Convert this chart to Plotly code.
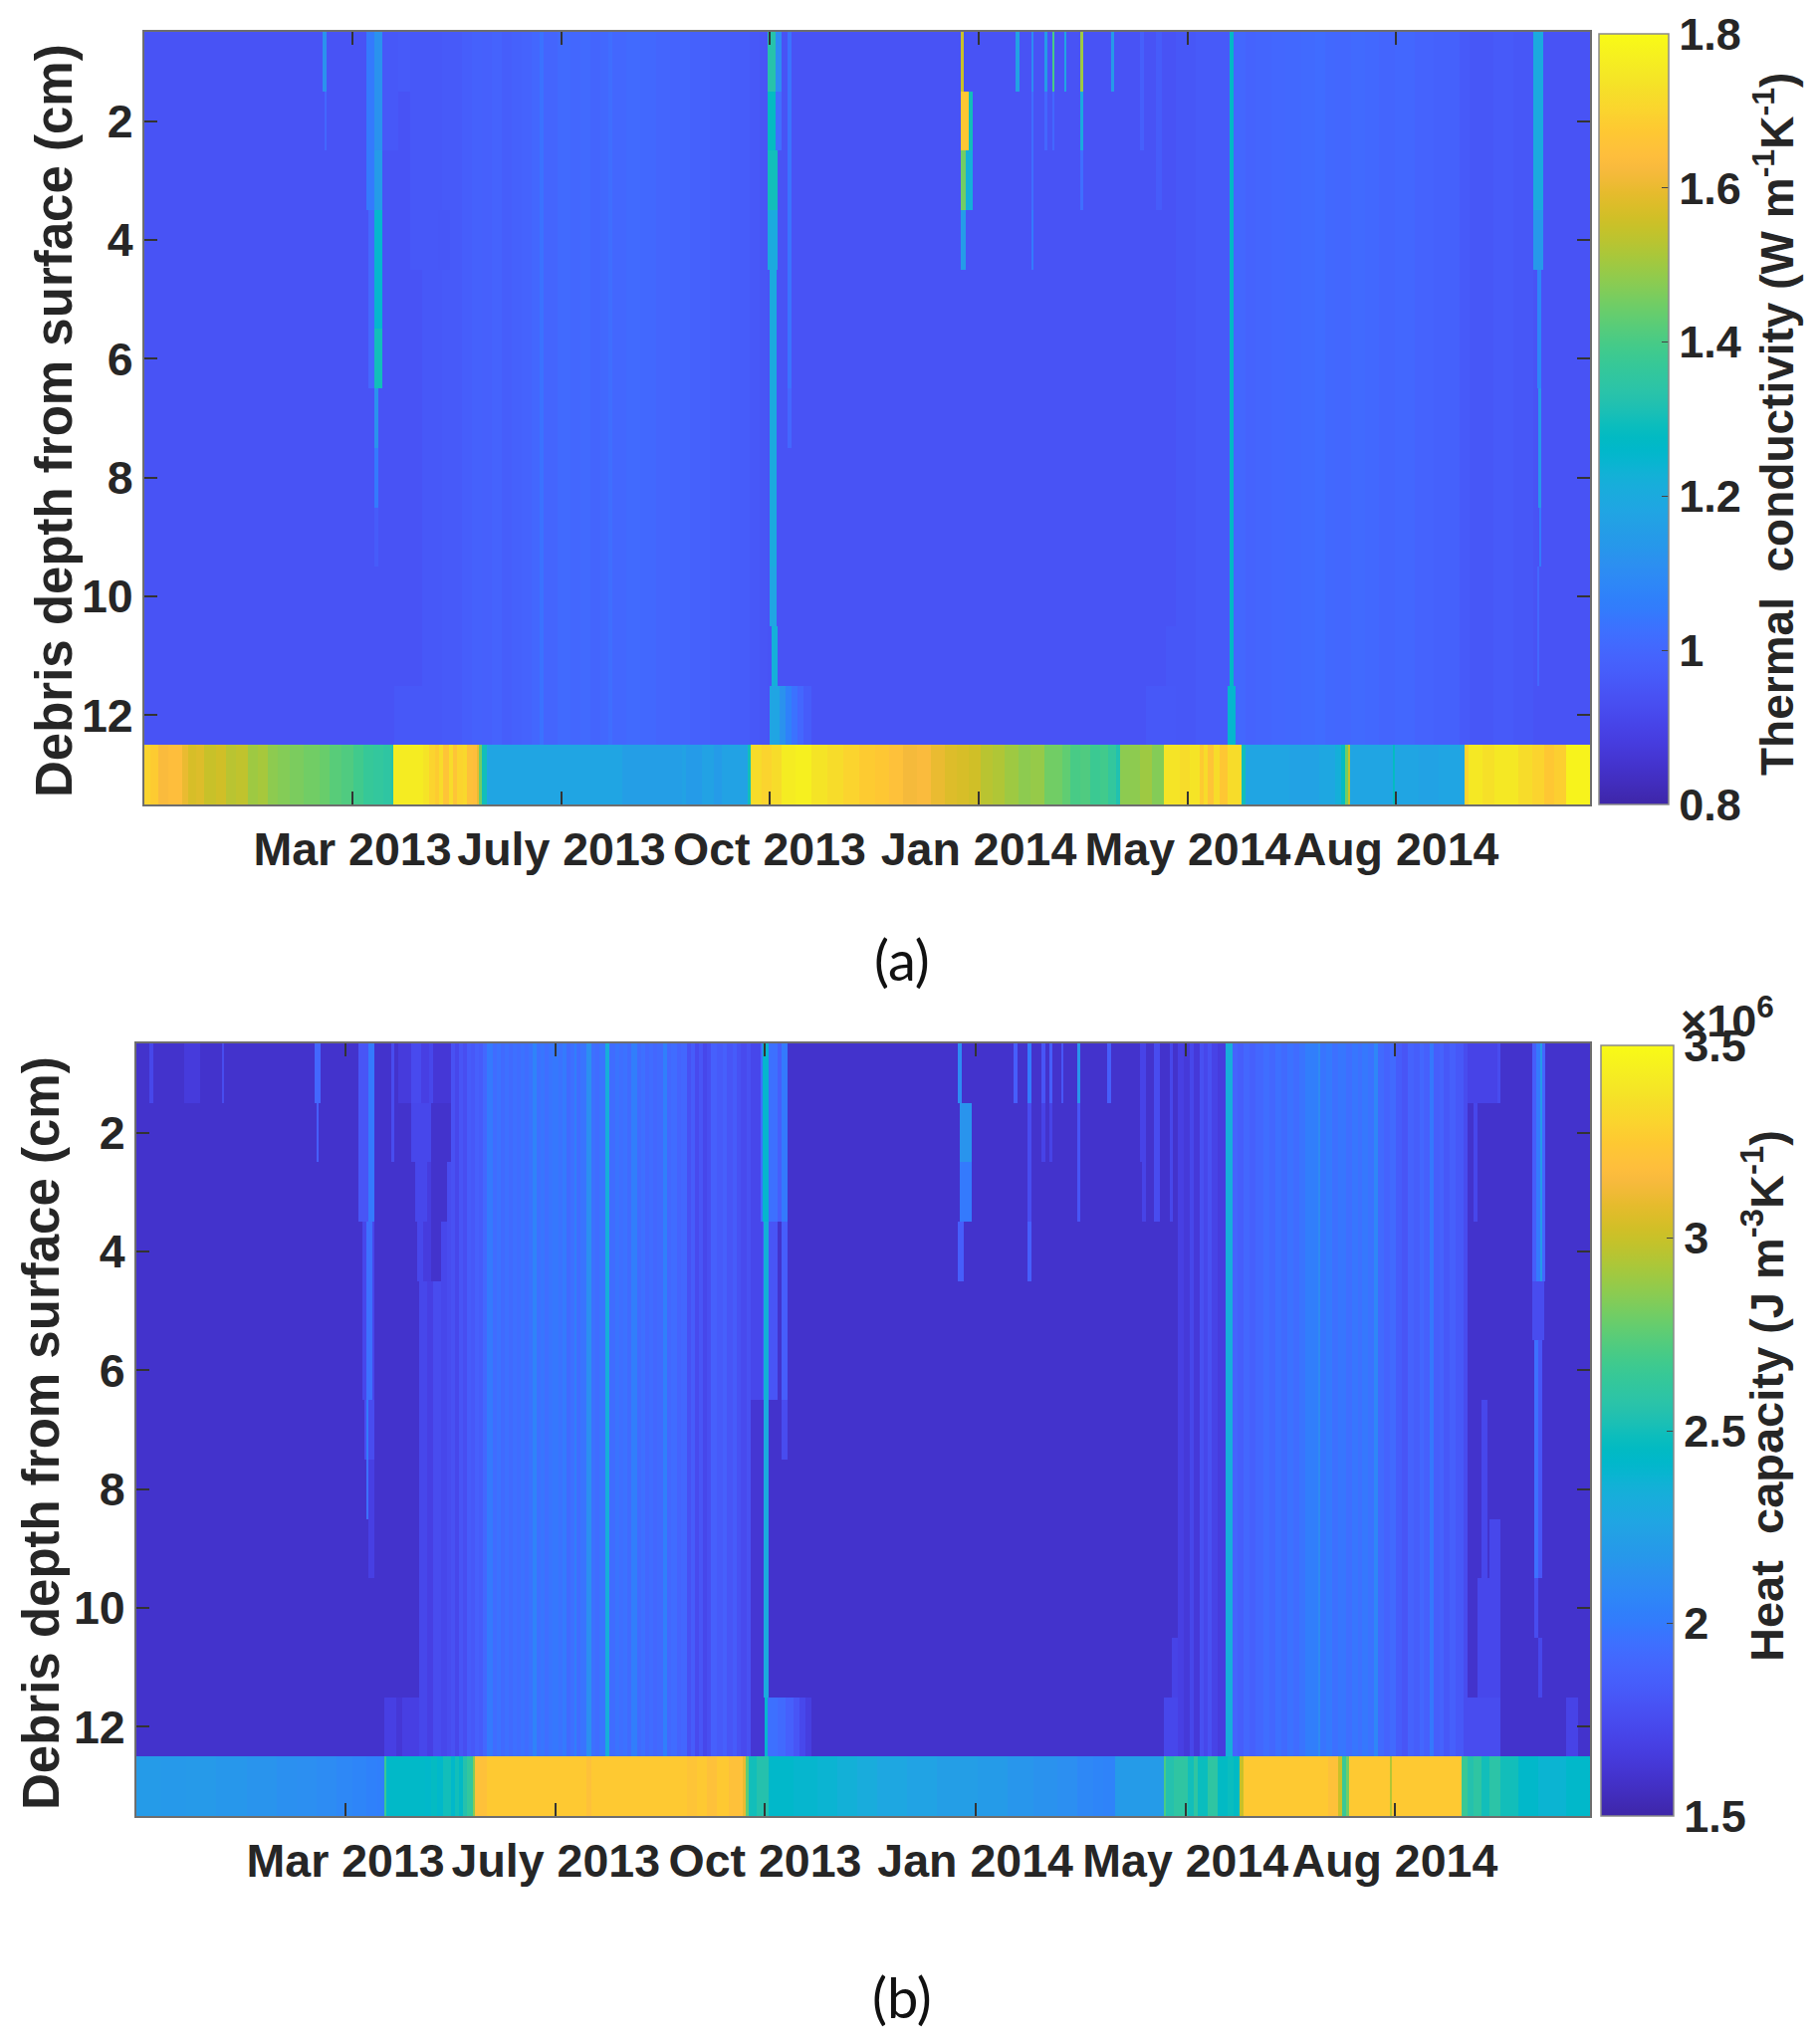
import pandas as pd
import numpy as np
import plotly.graph_objects as go

# ---------- data ----------
START = "2012-12-05"
TOTAL_DAYS = 726
depth_rows = list(range(1, 14))
tick_days = [104.5, 209.5, 314, 419, 524, 628.5]
tick_labels = ["Mar 2013", "July 2013", "Oct 2013", "Jan 2014", "May 2014", "Aug 2014"]
depth_ticks = [2, 4, 6, 8, 10, 12]
K_DAY_SCALE = 0.9965  # the thermal-conductivity day readings were taken at a slightly wider ruler

# thermal conductivity: all-depth background (start day, value)
k_bg_days = [0, 140, 150, 160, 165, 170, 175, 180, 185, 190, 195, 199, 201, 208, 215, 220, 225, 230, 234, 236, 243, 250, 258, 265, 270, 275, 285, 295, 305, 310, 314,
             520, 530, 547, 549, 555, 560, 568, 575, 583, 590, 595, 600, 608, 615, 622, 630, 640, 650, 663, 668, 680, 690, 700]
k_bg_vals = [.945, .96, .965, .975, .985, .98, .99, .975, .985, .99, 1.0, 1.03, .995, 1.01, 1.0, 1.01, .995, 1.005, 1.02, 1.0, 1.01, 1.005, .995, .99, .995, .985, .975, .97, .96, .95, .945,
             .955, .965, 1.27, 1.0, .99, .995, 1.0, 1.005, 1.01, 1.015, 1.005, 1.0, 1.01, 1.005, .995, 1.0, .99, .985, .965, .955, .965, .955, .945]
# thermal conductivity: local patches (from day, to day, depth rows, value)
k_patches = [
    (90, 92, [0], 1.12), (91, 92, [1], 1.0),
    (112, 116, [0, 1, 2], 1.05), (113, 116, [3, 4, 5], 1.0),
    (116, 120, [0, 1], 1.12), (116, 120, [2], 1.15), (116, 120, [3, 4], 1.25), (116, 120, [5], 1.3),
    (116, 118, [6], 1.12), (116, 118, [7], 1.05), (116, 118, [8], .97),
    (120, 128, [0, 1], .96), (128, 134, [0], .965), (134, 140, [0, 1, 2, 3], .96), (126, 140, [11], .96),
    (148, 154, [3], .955),
    (314, 319, [0], 1.33), (314, 319, [1], 1.28), (314, 319, [2], 1.3), (314, 319, [3], 1.2),
    (315, 318.5, [4, 5, 6, 7, 8], 1.2), (315, 318.5, [9], 1.18), (316, 319, [10], 1.22),
    (315, 320, [11], 1.18), (320, 323, [11], 1.12), (323, 326, [11], 1.07), (326, 329, [11], 1.03), (329, 332, [11], 1.0), (332, 336, [11], .97),
    (318, 321, [0], 1.1), (318, 321, [1], 1.02),
    (324, 326, [0, 1, 2, 3, 4, 5], 1.03), (324, 326, [6], 1.0),
    (411.5, 413, [0], 1.55), (411.5, 414, [3], 1.15),
    (411.5, 415.5, [1], 1.67), (415.5, 417.5, [1], 1.3), (411.5, 414, [2], 1.45), (414, 417.5, [2], 1.22),
    (439, 441, [0], 1.17), (447, 448, [0], 1.1), (447, 448, [1, 2], 1.02), (447, 448, [3], 1.05),
    (453.5, 455, [0], 1.15), (453.5, 455, [1], 1.0), (457.6, 458.6, [0], 1.4), (457.6, 458.6, [1], 1.0),
    (463.5, 464.5, [0], 1.18), (471.5, 473, [0], 1.5), (471.5, 473, [1], 1.2), (471.5, 473, [2], 1.02),
    (487, 488.5, [0], 1.15), (502, 504, [0, 1], .98), (510, 513, [0, 1, 2], .97),
    (505, 520, [11], .96), (515, 520, [10], .955), (546, 550, [11], 1.25),
    (700, 705, [0, 1, 2], 1.2), (700, 705, [3], 1.14), (702, 704, [4, 5], 1.08),
    (702.5, 704, [6, 7], 1.13), (703, 704, [8], 1.05), (702, 703, [9, 10], 1.0),
]
# thermal conductivity: bottom layer (start day, value)
k_base_days = [0, 3, 7, 12, 19, 22, 26, 30, 36, 41, 46, 52, 57, 62, 67, 73, 80, 88, 93, 99, 105, 110, 115, 120, 124, 125,
               140, 143, 146, 148, 150, 153, 155, 157, 160, 162, 165, 167, 168, 169.5, 172, 240, 270, 272, 280, 286, 290,
               303, 304.5, 310, 315, 320, 327, 335, 343, 351, 359, 367, 374, 381, 388, 395, 402, 408, 414, 420, 426, 432, 439, 445, 452, 461, 465, 470, 475, 480, 484, 488,
               490, 500, 506, 512, 520, 525, 530, 532, 534, 537, 540, 544, 551, 553, 575, 590, 598, 601, 603, 604.5, 605.5, 627, 628, 640, 650,
               663, 665, 672, 678, 690, 697, 703, 708, 714]
k_base_vals = [1.7, 1.68, 1.63, 1.64, 1.6, 1.57, 1.58, 1.55, 1.56, 1.53, 1.54, 1.5, 1.51, 1.48, 1.47, 1.46, 1.45, 1.44, 1.42, 1.41, 1.39, 1.37, 1.36, 1.35, 1.33, 1.76,
               1.74, 1.7, 1.68, 1.72, 1.66, 1.72, 1.66, 1.7, 1.71, 1.65, 1.64, 1.6, 1.45, 1.3, 1.18, 1.16, 1.17, 1.15, 1.17, 1.15, 1.17,
               1.3, 1.72, 1.7, 1.72, 1.76, 1.77, 1.74, 1.72, 1.7, 1.68, 1.67, 1.65, 1.62, 1.63, 1.6, 1.58, 1.57, 1.56, 1.53, 1.52, 1.5, 1.48, 1.49, 1.45, 1.43, 1.4, 1.41, 1.38, 1.39, 1.36, 1.32,
               1.48, 1.5, 1.47, 1.74, 1.72, 1.74, 1.68, 1.72, 1.66, 1.72, 1.67, 1.72, 1.3, 1.18, 1.17, 1.19, 1.22, 1.28, 1.45, 1.55, 1.18, 1.28, 1.18, 1.17, 1.18,
               1.7, 1.75, 1.73, 1.75, 1.72, 1.7, 1.67, 1.69, 1.78]

# heat capacity (x 10^6): all-depth background
c_bg_days = [0, 141, 145, 148, 152, 155,
             157, 159, 161, 163, 165, 167, 169, 171, 173, 175, 178, 180, 182, 184, 186, 188, 190, 192, 194, 196, 198, 200, 202, 204, 206, 208, 211, 213, 215, 217, 219, 220, 222, 225, 227, 229, 231, 234, 236,
             239, 241, 243, 245, 247, 250, 252, 254, 256, 258, 260, 263, 265, 267, 270, 272, 275, 277, 279, 281, 283, 285, 287, 290, 293, 295, 298, 300, 302, 305, 307, 316,
             520, 523, 526, 528, 531, 533, 535, 537, 540, 544, 547.5, 550, 553, 556, 559, 563, 566, 569, 572, 575, 578, 581, 584, 590, 591, 594, 597, 600, 604, 607, 610, 612, 615, 618, 620, 623, 626, 629, 632,
             635, 638, 641, 643, 646, 648, 651, 653, 656, 659, 663, 665]
c_bg_vals = [1.6, 1.72, 1.68, 1.75, 1.72, 1.75,
             1.78, 1.72, 1.8, 1.76, 1.84, 1.82, 1.86, 1.84, 1.9, 2.0, 1.93, 1.96, 1.92, 1.95, 1.92, 1.95, 1.93, 1.96, 1.93, 1.96, 2.05, 1.95, 1.98, 1.94, 1.97, 1.99, 1.96, 2.0, 1.92, 1.95, 2.03, 1.93, 1.97, 2.13, 1.95, 1.93, 1.97, 2.33, 1.93,
             1.97, 1.94, 1.96, 1.92, 2.02, 1.92, 1.95, 1.9, 1.93, 1.9, 1.92, 2.03, 1.9, 1.93, 1.88, 1.9, 1.78, 1.84, 1.74, 1.8, 1.72, 1.76, 1.86, 1.83, 1.86, 1.8, 1.84, 1.78, 1.74, 1.78, 1.62, 1.6,
             1.68, 1.64, 1.72, 1.64, 1.77, 1.72, 1.78, 1.7, 1.66, 2.33, 1.88, 1.85, 1.9, 1.86, 1.9, 1.94, 1.9, 1.95, 1.92, 1.96, 1.93, 1.97, 2.02, 2.1, 1.97, 2.0, 1.95, 1.98, 1.94, 1.98, 1.95, 1.99, 1.96, 2.07, 1.92, 1.88, 1.92, 1.84, 1.8,
             1.88, 1.85, 1.9, 1.86, 1.99, 1.85, 1.88, 1.82, 1.86, 1.82, 1.75, 1.6]
# heat capacity: local patches
c_patches = [
    (6.7, 8.7, [0], 1.72), (24, 32, [0], 1.65), (43, 44, [0], 1.75), (89, 92, [0], 1.9), (90, 91, [1], 1.85),
    (111, 119, [0, 1, 2], 1.8), (116, 119, [0, 1, 2], 2.0),
    (113, 119, [3, 4, 5], 1.72), (115, 118, [3, 4, 5], 1.95),
    (114, 119, [6], 1.75), (115, 116, [6], 2.0), (115, 119, [7], 1.68), (115, 116, [7], 1.95), (116, 119, [8], 1.68),
    (127.5, 129, [0, 1], 1.75),
    (131, 137, [0], 1.65), (137, 142, [0], 1.74), (142, 146, [0], 1.68), (146, 148, [0], 1.72), (148, 157, [0], 1.63),
    (141, 157, [1], 1.6), (137, 147, [1], 1.72),
    (141, 155, [2], 1.6), (139, 145, [2], 1.72), (145, 147, [2], 1.66),
    (141, 152, [3], 1.6), (140, 143, [3], 1.72), (143, 147, [3], 1.66),
    (124, 141, [11], 1.68), (130, 133, [11], 1.63),
    (307, 313, [0, 1, 2, 3, 4, 5], 1.72),
    (312, 320, [0, 1, 2], 1.95), (313, 316, [0, 1, 2], 2.4), (320, 322, [0, 1, 2], 1.85), (322, 325, [0, 1, 2], 2.0),
    (313, 320, [3, 4, 5], 1.8), (313.5, 316, [3, 4, 5], 2.35), (322, 325, [3, 4, 5], 1.85),
    (313.5, 316, [6, 7, 8, 9, 10], 2.3), (322, 325, [6], 1.75),
    (314, 315.5, [11], 2.4), (315.5, 320, [11], 1.95), (320, 324, [11], 1.92), (324, 328, [11], 1.86), (328, 331, [11], 1.8), (331, 334, [11], 1.73), (334, 337, [11], 1.67),
    (410, 412, [0], 2.1), (411, 417, [1], 2.15), (411, 417, [2], 2.0), (410, 413, [3], 1.85),
    (438, 440, [0], 1.85), (445, 447, [0], 2.0), (445, 447, [1, 2], 1.75), (445, 447, [3], 1.85),
    (452, 454, [0], 1.8), (452, 454, [1], 1.7), (456, 457.4, [0], 1.85), (456, 457.4, [1], 1.7),
    (462, 463, [0], 1.8), (470, 471.5, [0], 2.15), (470, 471.5, [1, 2], 1.8), (485, 487, [0], 1.85),
    (501, 504, [0, 1], 1.7), (502, 504, [2], 1.7), (508, 511, [0, 1, 2], 1.75), (516, 517.5, [0, 1, 2], 1.72),
    (513, 520, [11], 1.72), (517, 520, [10], 1.7),
    (665, 680, [0], 1.7), (680, 681, [0], 1.75), (668, 670, [1, 2], 1.72),
    (672, 675, [6, 7, 8, 9, 10], 1.72), (676, 681, [8, 9, 10], 1.72), (670, 676, [9, 10], 1.72),
    (665, 681, [11], 1.75), (714, 720, [11], 1.7),
    (697, 699, [0, 1, 2, 3], 1.85), (699, 701, [0, 1, 2, 3], 2.0), (701, 702, [0, 1, 2, 3], 2.2), (702, 703.5, [0, 1, 2, 3], 1.9),
    (697, 703, [4], 1.75), (698, 700, [5, 6, 7, 8], 1.95), (700, 702, [5, 6, 7, 8], 1.8), (698, 700, [9], 1.75), (700, 702, [10], 1.72),
]
# heat capacity: bottom layer
c_base_days = [0, 12, 25, 40, 55, 70, 80, 90, 100, 108, 115, 120, 124, 125, 135, 144, 147, 150, 153, 157, 159, 161, 163, 165, 168, 169, 175, 225, 227, 275, 280, 285, 290, 296, 303, 304.5,
               306, 310, 316, 328, 340, 350, 360, 370, 385, 400, 420, 435, 448, 460, 470, 478, 483, 489, 513, 514, 518, 525, 528, 530, 535, 540, 545, 548, 551, 553, 595, 600, 602, 604, 605.5,
               626, 627, 662, 665, 668, 672, 676, 681, 690, 700, 714]
c_base_vals = [2.2, 2.18, 2.19, 2.17, 2.15, 2.13, 2.12, 2.1, 2.08, 2.06, 2.04, 2.03, 2.65, 2.43, 2.43, 2.42, 2.46, 2.42, 2.5, 2.42, 2.5, 2.44, 2.55, 2.62, 2.85, 3.2, 3.25, 3.2, 3.25, 3.22, 3.25, 3.2, 3.25, 3.2, 3.1, 2.75,
               2.5, 2.55, 2.42, 2.4, 2.38, 2.35, 2.32, 2.28, 2.25, 2.22, 2.2, 2.16, 2.14, 2.12, 2.08, 2.06, 2.05, 2.2, 2.7, 2.55, 2.6, 2.5, 2.6, 2.48, 2.6, 2.45, 2.48, 2.45, 3.0, 3.25, 3.2, 3.0, 2.65, 2.8, 3.25,
               2.95, 3.25, 2.65, 2.55, 2.6, 2.5, 2.58, 2.5, 2.42, 2.38, 2.42]

parula_rgb = [
    (.2422, .1504, .6603), (.2504, .1650, .7076), (.2578, .1818, .7511), (.2647, .1978, .7952), (.2706, .2147, .8364), (.2751, .2342, .8710),
    (.2783, .2559, .8991), (.2803, .2782, .9221), (.2813, .3006, .9414), (.2810, .3228, .9579), (.2795, .3447, .9717), (.2760, .3667, .9829),
    (.2699, .3892, .9906), (.2602, .4123, .9952), (.2440, .4358, .9988), (.2206, .4603, .9973), (.1963, .4847, .9892), (.1834, .5074, .9798),
    (.1786, .5289, .9682), (.1764, .5499, .9520), (.1687, .5703, .9359), (.1540, .5902, .9218), (.1460, .6091, .9079), (.1380, .6276, .8973),
    (.1248, .6459, .8883), (.1113, .6635, .8763), (.0952, .6798, .8598), (.0689, .6948, .8394), (.0297, .7082, .8163), (.0036, .7203, .7917),
    (.0067, .7312, .7660), (.0433, .7411, .7394), (.0964, .7500, .7120), (.1408, .7584, .6842), (.1717, .7670, .6554), (.1938, .7758, .6251),
    (.2161, .7843, .5923), (.2470, .7918, .5567), (.2906, .7973, .5188), (.3406, .8008, .4789), (.3909, .8029, .4354), (.4456, .8024, .3909),
    (.5044, .7993, .3480), (.5616, .7942, .3045), (.6174, .7876, .2612), (.6720, .7793, .2227), (.7242, .7698, .1910), (.7738, .7598, .1646),
    (.8203, .7498, .1535), (.8634, .7406, .1596), (.9035, .7330, .1774), (.9393, .7288, .2100), (.9728, .7298, .2394), (.9956, .7434, .2371),
    (.9970, .7659, .2199), (.9952, .7861, .1964), (.9892, .8137, .1886), (.9786, .8376, .1778), (.9676, .8620, .1650), (.9610, .8890, .1537),
    (.9597, .9135, .1423), (.9628, .9373, .1265), (.9691, .9606, .1064), (.9769, .9839, .0805),
]


# ---------- assemble ----------
def to_date(d):
    return (pd.Timestamp(START) + pd.Timedelta(days=float(d))).strftime("%Y-%m-%d %H:%M")


def build(bg_days, bg_vals, patches, base_days, base_vals, day_scale=1.0):
    bg_days = [d * day_scale for d in bg_days]
    patches = [(a * day_scale, b * day_scale, r, v) for a, b, r, v in patches]
    edges = set(bg_days) | set(base_days) | {0, TOTAL_DAYS}
    for a, b, _, _ in patches:
        edges |= {a, b}
    edges = np.array(sorted(edges), dtype=float)
    mid = (edges[:-1] + edges[1:]) / 2
    bg = np.array(bg_vals)[np.searchsorted(bg_days, mid, side="right") - 1]
    base = np.array(base_vals)[np.searchsorted(base_days, mid, side="right") - 1]
    z = np.tile(bg, (13, 1))
    for a, b, rows, v in patches:
        z[np.ix_(rows, np.where((mid > a) & (mid < b))[0])] = v
    z[12] = base
    return [to_date(e) for e in edges], z.tolist()


W, H, OFF = 1812, 2036, 8
fx = lambda p: (p - OFF) / W
fy = lambda p: 1 - (p - OFF) / H

INK = "#262626"
SANS = "Liberation Sans"
scale = [[i / (len(parula_rgb) - 1), "rgb(%d,%d,%d)" % tuple(round(c * 255) for c in rgb)] for i, rgb in enumerate(parula_rgb)]

fig = go.Figure()
panels = [
    dict(x0=145, x1=1597, y0=32, y1=808, cx0=1606, cx1=1676, cy0=34, cy1=808, zmin=.8, zmax=1.8,
         ticks=[.8, 1, 1.2, 1.4, 1.6, 1.8],
         data=build(k_bg_days, k_bg_vals, k_patches, k_base_days, k_base_vals, K_DAY_SCALE),
         name="Thermal conductivity"),
    dict(x0=137, x1=1597, y0=1048, y1=1824, cx0=1608, cx1=1681, cy0=1050, cy1=1824, zmin=1.5, zmax=3.5,
         ticks=[1.5, 2, 2.5, 3, 3.5], data=build(c_bg_days, c_bg_vals, c_patches, c_base_days, c_base_vals),
         name="Heat capacity"),
]
axis_style = dict(showline=True, linecolor="#6e6e6e", linewidth=2, mirror="ticks", ticks="inside", ticklen=13,
                  tickwidth=1.5, tickcolor="#333333", showgrid=False, zeroline=False, tickangle=0,
                  tickfont=dict(family=SANS, size=46.5, color=INK, weight="bold"))
for i, p in enumerate(panels, start=1):
    x, z = p["data"]
    fig.add_trace(go.Heatmap(
        x=x, y=depth_rows, z=z, xaxis=f"x{i}", yaxis=f"y{i}", zmin=p["zmin"], zmax=p["zmax"],
        colorscale=scale, name=p["name"], hoverongaps=False,
        colorbar=dict(x=fx(p["cx0"]), xanchor="left", xpad=0, ypad=0, y=fy(p["cy1"]), yanchor="bottom",
                      lenmode="pixels", len=p["cy1"] - p["cy0"], thicknessmode="pixels", thickness=p["cx1"] - p["cx0"],
                      outlinecolor="#8a8a8a", outlinewidth=1.5, ticks="inside", ticklen=7, tickcolor="#444444",
                      tickvals=p["ticks"], tickfont=dict(family=SANS, size=45, color=INK, weight="bold")),
    ))
    fig.update_layout({
        f"xaxis{i}": dict(anchor=f"y{i}", domain=[fx(p["x0"]), fx(p["x1"])], type="date",
                          range=[to_date(0), to_date(TOTAL_DAYS)],
                          tickvals=[to_date(d) for d in tick_days], ticktext=tick_labels,
                          ticklabelstandoff=3, **axis_style),
        f"yaxis{i}": dict(anchor=f"x{i}", domain=[fy(p["y1"]), fy(p["y0"])], range=[13.5, .5],
                          tickvals=depth_ticks, ticklabelstandoff=0, **axis_style),
    })


def note(text, x, y, size, angle=0, family=SANS, color=INK, xanchor="center"):
    fig.add_annotation(text=text, x=fx(x), y=fy(y), xref="paper", yref="paper", showarrow=False, textangle=angle,
                       xanchor=xanchor, yanchor="middle", font=dict(family=family, size=size, color=color))


note("<b>Debris depth from surface (cm)</b>", 54, 423, 51, -90)
note("<b>Debris depth from surface (cm)</b>", 41, 1440, 51, -90)
note("<b>Thermal  conductivity (W m<sup>-1</sup>K<sup>-1</sup>)</b>", 1782, 426, 46, -90)
note("<b>Heat  capacity (J m<sup>-3</sup>K<sup>-1</sup>)</b>", 1771, 1402, 47, -90)
note("<b>×10<sup>6</sup></b>", 1686, 1022, 45, xanchor="left")
note("(a)", 906, 963, 56, family="Lato", color="#111111")
note("(b)", 906, 2005, 56, family="Lato", color="#111111")

fig.update_layout(width=W, height=H, autosize=False, margin=dict(l=0, r=0, t=0, b=0),
                  paper_bgcolor="white", plot_bgcolor="white", showlegend=False)
fig.write_html("out.html")
